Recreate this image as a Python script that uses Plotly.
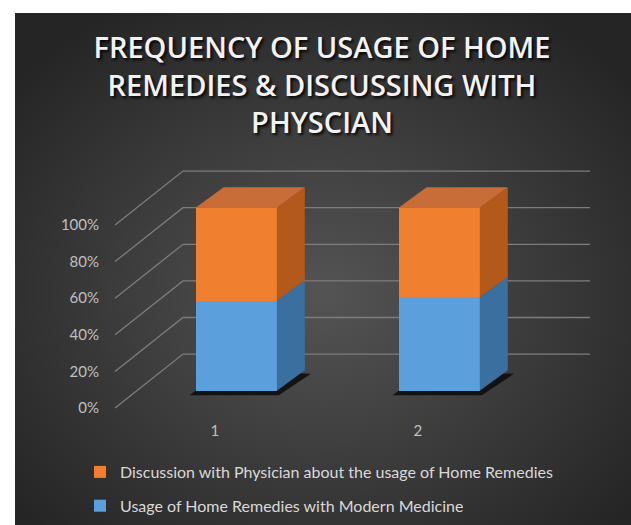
import base64
import plotly.graph_objects as go

# ---------------- data ----------------
categories = [1, 2]
category_labels = ["1", "2"]
series_names = [
    "Usage of Home Remedies with Modern Medicine",
    "Discussion with Physician about the usage of Home Remedies",
]
usage_values = [49.2, 51.0]          # % (blue, bottom)
discussion_values = [50.8, 49.0]     # % (orange, top)
y_ticks = [0, 20, 40, 60, 80, 100]
y_tick_labels = ["0%", "20%", "40%", "60%", "80%", "100%"]

# ---------------- styles ----------------
W, H = 631, 525
L, R, T, B = 113, 31, 160, 105          # plot-area margins (px)
PX_X = 203.0                            # px per x unit
PX_Y = 1.83                             # px per y unit (percent)
X0_PX = 236.2                           # px position of category 1
Y0_PX = 390.7                           # px position of 0 on the bar front plane

def xu(px):
    return 1 + (px - X0_PX) / PX_X

x_range = [xu(L), xu(W - R)]
y_range = [-(H - B - Y0_PX) / PX_Y, (Y0_PX - T) / PX_Y]

BAR_W = 0.4
DX_BAR = 28 / PX_X            # depth of bars (x)
DY_BAR = 20.5 / PX_Y          # depth of bars (y)
WALL_DY = 20.0                # back wall is 36.7 px above the bar front plane
LABEL_DY = -9.45              # axis labels sit in front of the bars
LABEL_DX = -0.105
WALL_LEFT, WALL_CORNER, WALL_RIGHT = xu(115), xu(183), xu(590)

blue_front, blue_side = "#5b9fdc", "#3b6f9f"
orange_front, orange_top, orange_side = "#f07f30", "#c96d38", "#b3591c"
grid_col = "#7d7d7d"
font_family = "Lato"

fig = go.Figure()
fig.add_trace(go.Bar(x=categories, y=usage_values, name=series_names[0], width=BAR_W,
                     marker=dict(color=blue_front, line=dict(width=0)),
                     legendgroup="a", legendrank=2))
fig.add_trace(go.Bar(x=categories, y=discussion_values, name=series_names[1], width=BAR_W,
                     marker=dict(color=orange_front, line=dict(width=0)),
                     legendgroup="b", legendrank=1))

shapes = []
# back wall / side wall lines
for v in y_ticks:
    shapes.append(dict(type="path", xref="x", yref="y", layer="below",
                       path=f"M{WALL_LEFT},{v + LABEL_DY} L{WALL_CORNER},{v + WALL_DY} L{WALL_RIGHT},{v + WALL_DY}",
                       line=dict(color=grid_col, width=1.3)))

# 3D faces computed from the stacked data
for i, c in enumerate(categories):
    xl, xr = c - BAR_W / 2, c + BAR_W / 2
    total = usage_values[i] + discussion_values[i]
    b_top = usage_values[i] / total * 100
    # shadow on floor
    shapes.append(dict(type="path", xref="x", yref="y", layer="below",
                       path=(f"M{xl - 0.03},{-2.5} L{xr + 0.01},{-2.5} L{xr + DX_BAR + 0.03},{DY_BAR - 2} "
                             f"L{xl + DX_BAR},{DY_BAR} Z"),
                       fillcolor="rgba(10,10,10,0.85)", line=dict(width=0)))
    segs = [(0, b_top, blue_side), (b_top, 100, orange_side)]
    for y0, y1, col in segs:
        shapes.append(dict(type="path", xref="x", yref="y",
                           path=(f"M{xr},{y0} L{xr},{y1} L{xr + DX_BAR},{y1 + DY_BAR} "
                                 f"L{xr + DX_BAR},{y0 + DY_BAR} Z"),
                           fillcolor=col, line=dict(width=0)))
    shapes.append(dict(type="path", xref="x", yref="y",
                       path=(f"M{xl},100 L{xr},100 L{xr + DX_BAR},{100 + DY_BAR} "
                             f"L{xl + DX_BAR},{100 + DY_BAR} Z"),
                       fillcolor=orange_top, line=dict(width=0)))

# dark radial background
svg = ('<svg xmlns="http://www.w3.org/2000/svg" width="616" height="512" viewBox="0 0 616 512" preserveAspectRatio="none">'
       '<defs><radialGradient id="g" cx="50%" cy="55%" r="65%">'
       '<stop offset="0%" stop-color="#545454"/><stop offset="100%" stop-color="#252525"/>'
       '</radialGradient></defs><rect width="616" height="512" fill="url(#g)"/></svg>')
src = "data:image/svg+xml;base64," + base64.b64encode(svg.encode()).decode()
pw, ph = W - L - R, H - T - B
images = [dict(source=src, xref="paper", yref="paper",
               x=(15 - L) / pw, y=(H - B - 13) / ph,
               sizex=(W - 15) / pw, sizey=(H - 13) / ph,
               xanchor="left", yanchor="top", sizing="stretch", layer="below")]

fig.update_layout(
    width=W, height=H,
    margin=dict(l=L, r=R, t=T, b=B, pad=0, autoexpand=False),
    paper_bgcolor="white", plot_bgcolor="rgba(0,0,0,0)",
    barmode="stack", bargap=0,
    shapes=shapes, images=images,
    title=dict(text="FREQUENCY OF USAGE OF HOME<br>REMEDIES &amp; DISCUSSING WITH<br>PHYSCIAN",
               x=322 / W, xanchor="center", y=1 - 58 / H, yanchor="top", xref="container", yref="container",
               font=dict(family="Open Sans", size=29, color="#f2f2f2", weight=600,
                         shadow="2px 2px 3px rgba(0,0,0,0.9)")),
    xaxis=dict(range=x_range, tickvals=[c + LABEL_DX for c in categories], ticktext=category_labels,
               showgrid=False, zeroline=False, showline=False, ticks="",
               tickfont=dict(family=font_family, size=15, color="#c0c0c0")),
    yaxis=dict(range=y_range, tickvals=[v + LABEL_DY for v in y_ticks], ticktext=y_tick_labels,
               showgrid=False, zeroline=False, showline=False, ticks="", ticklabelstandoff=13,
               tickfont=dict(family=font_family, size=15, color="#c0c0c0")),
    legend=dict(x=(80 - L) / pw, y=(H - B - 455) / ph, xanchor="left", yanchor="top",
                traceorder="grouped", tracegroupgap=10, bgcolor="rgba(0,0,0,0)",
                font=dict(family=font_family, size=16, color="#d9d9d9")),
    showlegend=True,
)

fig.write_html("out.html", config={"displayModeBar": False},
               post_script="document.body.style.margin='0';document.body.style.overflow='hidden';")
